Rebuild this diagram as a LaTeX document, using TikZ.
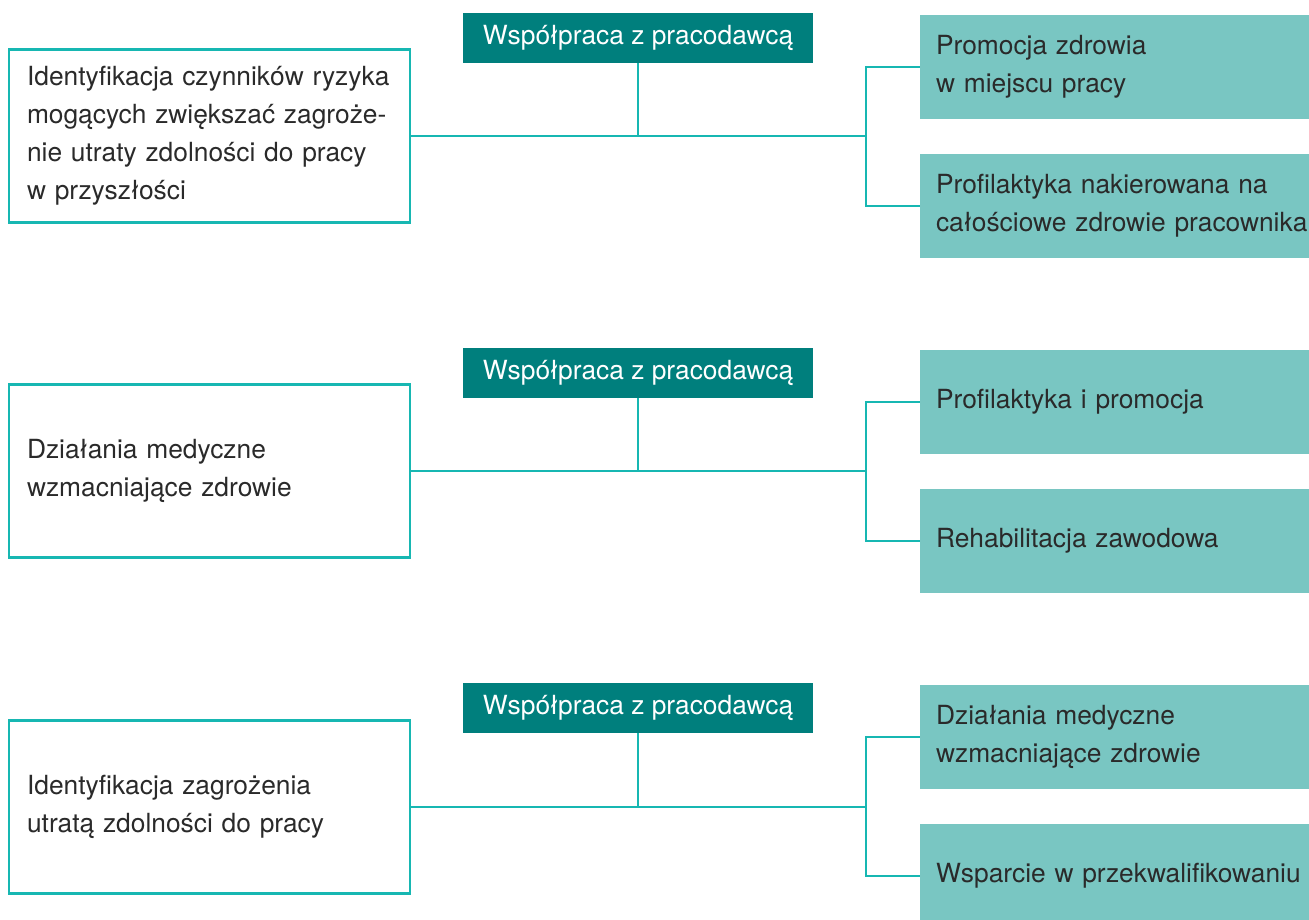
\documentclass[tikz,border=0pt]{standalone}
\usepackage{fontspec}
\setmainfont{TeX Gyre Heros}

\definecolor{linia}{HTML}{17B7B2}
\definecolor{ciemny}{HTML}{007F7D}
\definecolor{jasny}{HTML}{79C6C2}
\definecolor{tekst}{HTML}{2A2A2A}

\tikzset{
  lewy/.style={draw=linia, line width=1.2pt, fill=white, text=tekst,
    minimum width=8.02cm, minimum height=3.46cm, inner xsep=0.36cm,
    text width=7.3cm, align=left},
  naglowek/.style={fill=ciemny, text=white, minimum width=7cm,
    minimum height=1cm, inner sep=0pt},
  prawy/.style={fill=jasny, text=tekst, minimum width=8.1cm,
    minimum height=2.08cm, inner xsep=0.32cm, text width=7.46cm, align=left},
  polacz/.style={draw=linia, line width=1.2pt}
}

\begin{document}
\begin{tikzpicture}[x=0.02cm, y=-0.02cm, font=\fontsize{15}{21.6}\selectfont]
	\clip (0,0) rectangle (1309,920);
	\fill[white] (0,0) rectangle (1309,920);

	\node[lewy] (lewy1) at (209.5,136) {Identyfikacja czynników ryzyka\\mogących zwiększać zagroże-\\nie utraty zdolności do pracy\\w przyszłości};
	\node[naglowek] (nag1) at (638,38) {Współpraca z pracodawcą};
	\node[prawy] (prawy1a) at (1122.5,67) {Promocja zdrowia\\w miejscu pracy};
	\node[prawy] (prawy1b) at (1122.5,206) {Profilaktyka nakierowana na\\całościowe zdrowie pracownika};
	\coordinate (w1) at (866,136);

	\draw[polacz] (lewy1.east) -- (w1);
	\draw[polacz] (nag1.south) -- (nag1.south |- w1);
	\draw[polacz] (prawy1a.west) -| (w1) |- (prawy1b.west);

	\node[lewy] (lewy2) at (209.5,471) {Działania medyczne\\wzmacniające zdrowie};
	\node[naglowek] (nag2) at (638,373) {Współpraca z pracodawcą};
	\node[prawy] (prawy2a) at (1122.5,402) {Profilaktyka i promocja};
	\node[prawy] (prawy2b) at (1122.5,541) {Rehabilitacja zawodowa};
	\coordinate (w2) at (866,471);

	\draw[polacz] (lewy2.east) -- (w2);
	\draw[polacz] (nag2.south) -- (nag2.south |- w2);
	\draw[polacz] (prawy2a.west) -| (w2) |- (prawy2b.west);

	\node[lewy] (lewy3) at (209.5,807) {Identyfikacja zagrożenia\\utratą zdolności do pracy};
	\node[naglowek] (nag3) at (638,708) {Współpraca z pracodawcą};
	\node[prawy] (prawy3a) at (1122.5,737) {Działania medyczne\\wzmacniające zdrowie};
	\node[prawy] (prawy3b) at (1122.5,876) {Wsparcie w przekwalifikowaniu};
	\coordinate (w3) at (866,807);

	\draw[polacz] (lewy3.east) -- (w3);
	\draw[polacz] (nag3.south) -- (nag3.south |- w3);
	\draw[polacz] (prawy3a.west) -| (w3) |- (prawy3b.west);
\end{tikzpicture}
\end{document}
